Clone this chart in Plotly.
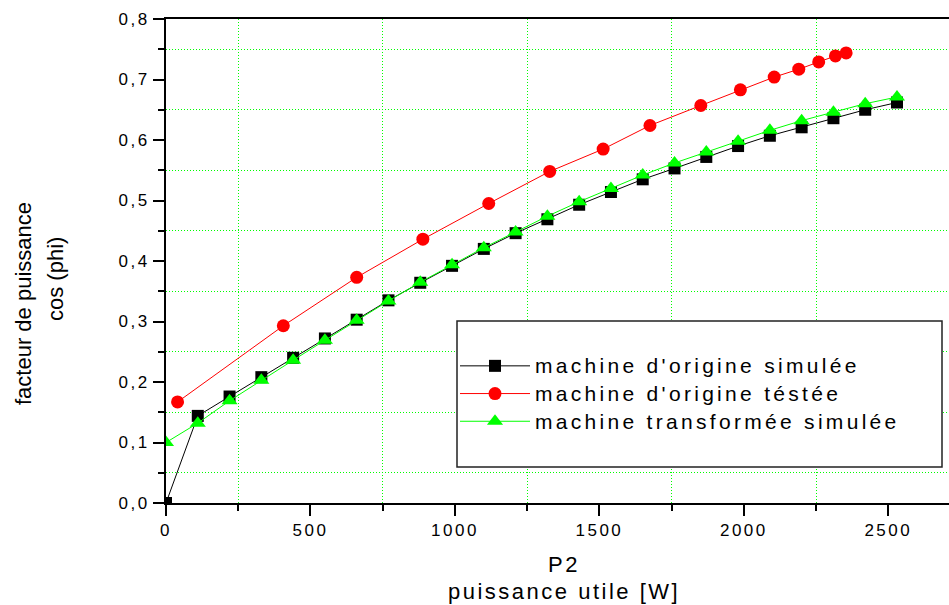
import plotly.graph_objects as go

# ---- data ----
p2_sim = [0, 110, 220, 330, 440, 550, 660, 770, 880, 990, 1100, 1210, 1320, 1430,
          1540, 1650, 1760, 1870, 1980, 2090, 2200, 2310, 2420, 2530]
cos_orig_sim = [0.0, 0.144, 0.176, 0.208, 0.240, 0.272, 0.303, 0.335, 0.364, 0.392,
                0.420, 0.446, 0.469, 0.493, 0.514, 0.535, 0.553, 0.572, 0.590, 0.607,
                0.621, 0.636, 0.650, 0.662]
cos_trans_sim = [0.100, 0.132, 0.169, 0.203, 0.236, 0.269, 0.302, 0.334, 0.365, 0.394,
                 0.422, 0.448, 0.474, 0.498, 0.520, 0.542, 0.562, 0.580, 0.598, 0.616,
                 0.632, 0.646, 0.660, 0.671]
p2_test = [40, 406, 660, 889, 1117, 1328, 1513, 1675, 1851, 1988, 2105, 2190, 2259, 2317, 2354]
cos_orig_test = [0.167, 0.293, 0.373, 0.436, 0.495, 0.548, 0.585, 0.624, 0.657, 0.683,
                 0.704, 0.717, 0.729, 0.739, 0.744]

series_names = ["machine d'origine simulée", "machine d'origine téstée",
                "machine transformée simulée"]
x_tickvals = [0, 500, 1000, 1500, 2000, 2500]
x_gridvals = [250, 750, 1250, 1750, 2250]
y_tickvals = [0.0, 0.1, 0.2, 0.3, 0.4, 0.5, 0.6, 0.7, 0.8]
y_gridvals = [0.05, 0.15, 0.25, 0.35, 0.45, 0.55, 0.65, 0.75]
y_ticktext = ["0,0", "0,1", "0,2", "0,3", "0,4", "0,5", "0,6", "0,7", "0,8"]
x_title = ["P2", "puissance utile [W]"]
y_title = ["facteur de puissance", "cos (phi)"]

FONT = "Liberation Sans, Arial, sans-serif"


def spaced(t, ls, size=None):
    st = f"letter-spacing:{ls}px"
    if size:
        st += f";font-size:{size}px"
    return f"<span style='{st}'>{t}</span>"


fig = go.Figure()
fig.add_trace(go.Scatter(
    x=p2_sim, y=cos_orig_sim, mode="lines+markers",
    name=spaced(series_names[0], 3.3, 21),
    line=dict(color="#000000", width=1),
    marker=dict(symbol="square", size=12, color="#000000", line=dict(width=0))))
fig.add_trace(go.Scatter(
    x=p2_test, y=cos_orig_test, mode="lines+markers",
    name=spaced(series_names[1], 3.3, 21),
    line=dict(color="#ff0000", width=1),
    marker=dict(symbol="circle", size=13, color="#ff0000", line=dict(width=0))))
fig.add_trace(go.Scatter(
    x=p2_sim, y=cos_trans_sim, mode="lines+markers",
    name=spaced(series_names[2], 3.3, 21),
    line=dict(color="#00ff00", width=1),
    marker=dict(symbol="triangle-up", size=14, color="#00ff00", line=dict(width=0))))

W, H = 949, 605
ML, MR, MT, MB = 166, 0, 19, 102
pw, ph = W - ML - MR, H - MT - MB


def px2paper(px, py):
    return (px - ML) / pw, (H - MB - py) / ph


annotations = []
for txt, (cx, cy) in zip(y_title, [(23, 304), (55, 279)]):
    ax, ay = px2paper(cx, cy)
    annotations.append(dict(text=txt, x=ax, y=ay, xref="paper", yref="paper",
                            xanchor="center", yanchor="middle", textangle=-90,
                            showarrow=False, font=dict(size=22, color="black", family=FONT)))
for txt, (cx, cy) in zip(x_title, [(564, 564), (564, 591)]):
    ax, ay = px2paper(cx, cy)
    annotations.append(dict(text=spaced(txt, 2.5), x=ax, y=ay, xref="paper", yref="paper",
                            xanchor="center", yanchor="middle",
                            showarrow=False, font=dict(size=22, color="black", family=FONT)))

bx0, by0 = px2paper(457, 467)
bx1, by1 = px2paper(942, 321)
lx, ly = px2paper(455, 347)

fig.update_layout(
    width=W, height=H,
    margin=dict(l=ML, r=MR, t=MT, b=MB, pad=0),
    paper_bgcolor="white", plot_bgcolor="white",
    font=dict(family=FONT, size=16, color="black"),
    showlegend=True,
    legend=dict(x=lx, y=ly, xanchor="left", yanchor="top",
                bgcolor="rgba(0,0,0,0)", borderwidth=0,
                font=dict(size=19, family=FONT, color="black"),
                itemwidth=70, tracegroupgap=0),
    annotations=annotations,
    shapes=[dict(type="rect", xref="paper", yref="paper", x0=bx0, x1=bx1, y0=by0, y1=by1,
                 line=dict(color="#222222", width=1.5), fillcolor="white", layer="above")],
    xaxis=dict(range=[0, 2710], showgrid=False, zeroline=False,
               showline=True, linecolor="black", linewidth=2, mirror=True,
               ticks="outside", ticklen=11, tickwidth=2, tickcolor="black",
               tickvals=x_tickvals, ticktext=[spaced(str(v), 2.5) for v in x_tickvals],
               tickfont=dict(size=17, family=FONT, color="black"),
               minor=dict(tickvals=x_gridvals, ticks="outside", ticklen=6, tickwidth=2,
                          tickcolor="black", showgrid=True, gridcolor="#00ff00",
                          gridwidth=1, griddash="1px,2px")),
    yaxis=dict(range=[0, 0.8], showgrid=False, zeroline=False,
               showline=True, linecolor="black", linewidth=2,
               ticks="outside", ticklen=11, tickwidth=2, tickcolor="black",
               tickvals=y_tickvals, ticktext=[spaced(t, 2.5) for t in y_ticktext],
               tickfont=dict(size=17, family=FONT, color="black"),
               minor=dict(tickvals=y_gridvals, ticks="outside", ticklen=6, tickwidth=2,
                          tickcolor="black", showgrid=True, gridcolor="#00ff00",
                          gridwidth=1, griddash="1px,2px")),
)

fig.write_html("out.html", config={"displayModeBar": False},
               post_script="document.body.style.margin='0';document.body.style.padding='0';")
